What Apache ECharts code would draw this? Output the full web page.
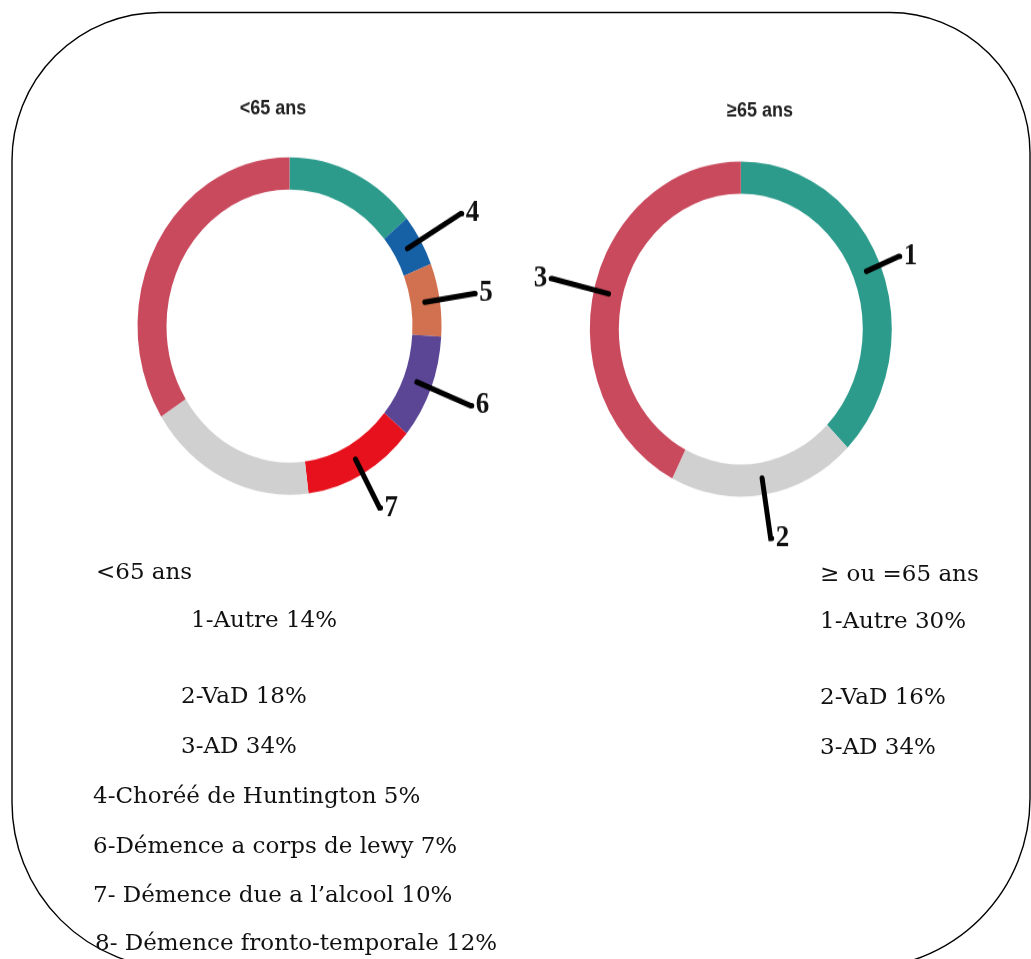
<!DOCTYPE html>
<html>
<head>
<meta charset="utf-8">
<script src="https://cdn.jsdelivr.net/npm/echarts@6/dist/echarts.min.js"></script>
<style>
  html, body { margin: 0; padding: 0; background: #fff; }
  #page { position: relative; width: 1031px; height: 959px; overflow: hidden; }
  #frame { position: absolute; left: 0; top: 0; width: 1031px; height: 959px; }
  /* the donut layer is stretched a little vertically, giving the rings their oval shape */
  #rings { position: absolute; left: 0; top: 0; width: 1031px; height: 864px;
           transform: scaleY(1.11); transform-origin: 0 0; }
</style>
</head>
<body>
<div id="page">
  <div id="frame"></div>
  <div id="rings"></div>
</div>
<script>
// ---- data: under 65 (ring order, clockwise from 12 o'clock) ----
const youngTitle = '<65 ans';
const youngHeading = '<65 ans';
const youngCategories = ['Autre', 'Choréé de Huntington', 'Démence a corps de lewy',
  'Démence due a l’alcool', 'Démence fronto-temporale', 'VaD', 'AD'];
const youngValues = [14, 5, 7, 10, 12, 18, 34];
const youngRingTags = ['', '4', '5', '6', '7', '', ''];
const youngListTags = ['1-', '4-', '6-', '7- ', '8- ', '2-', '3-'];
const youngListOrder = [0, 5, 6, 1, 2, 3, 4];

// ---- data: 65 and over ----
const oldTitle = '≥65 ans';
const oldHeading = '≥ ou =65 ans';
const oldCategories = ['Autre', 'VaD', 'AD'];
const oldValues = [30, 16, 34];
const oldRingTags = ['1', '2', '3'];
const oldListTags = ['1-', '2-', '3-'];
const oldListOrder = [0, 1, 2];

// ---- styling ----
const youngColors = ['#2c9b8b', '#1660a6', '#d2714f', '#5b4696', '#e6111d', '#d0d0d0', '#c9495d'];
const oldColors = ['#2c9b8b', '#d0d0d0', '#c9495d'];
const serif = '"DejaVu Serif", serif';

function ringSeries(center, radius, names, values, colors) {
  return {
    type: 'pie', center: center, radius: radius, startAngle: 90, clockwise: true,
    silent: true, label: { show: false }, labelLine: { show: false },
    data: names.map((n, i) => ({ name: n, value: values[i], itemStyle: { color: colors[i] } }))
  };
}

// transparent twin pie reaching to the middle of the ring, used only to carry the numbered pointers
function pointerSeries(center, midR, names, values, tags, lengths) {
  return {
    type: 'pie', center: center, radius: [0, midR], startAngle: 90, clockwise: true,
    silent: true, z: 5, avoidLabelOverlap: false,
    itemStyle: { color: 'rgba(0,0,0,0)' },
    label: {
      show: true, position: 'outside', formatter: p => tags[p.dataIndex],
      fontFamily: '"Liberation Serif", serif', fontWeight: 'bold', fontSize: 27,
      color: '#111', distanceToLabelLine: 4
    },
    labelLine: { show: true, length: 45, length2: 1, smooth: false,
      lineStyle: { color: '#000', width: 5, cap: 'round' } },
    data: names.map((n, i) => ({
      name: n, value: values[i],
      label: { show: !!tags[i] },
      labelLine: { show: !!tags[i], length: lengths[i] }
    }))
  };
}

const rings = echarts.init(document.getElementById('rings'), null, { renderer: 'canvas' });
rings.setOption({
  animation: false,
  graphic: [
    { type: 'text', x: 273, y: 98, style: { text: youngTitle, font: 'bold 18px "Liberation Sans", sans-serif',
      fill: '#222', textAlign: 'center', align: 'center', textVerticalAlign: 'middle', verticalAlign: 'middle' } },
    { type: 'text', x: 760, y: 100, style: { text: oldTitle, font: 'bold 18px "Liberation Sans", sans-serif',
      fill: '#222', textAlign: 'center', align: 'center', textVerticalAlign: 'middle', verticalAlign: 'middle' } }
  ],
  series: [
    ringSeries([289.5, 293.7], [123, 152], youngCategories, youngValues, youngColors),
    pointerSeries([289.5, 293.7], 137, youngCategories, youngValues, youngRingTags, [0, 62, 50, 58, 50, 0, 0]),
    ringSeries([740.8, 296.4], [122, 151], oldCategories, oldValues, oldColors),
    pointerSeries([740.8, 296.4], 136, oldCategories, oldValues, oldRingTags, [35, 55, 58])
  ]
});

// ---- frame and caption lines ----
function textEl(x, y, str) {
  return { type: 'text', x: x, y: y, style: { text: str, font: '23px ' + serif, fill: '#111',
    textVerticalAlign: 'middle', verticalAlign: 'middle' } };
}
const youngRowX = [191, 181, 181, 93, 93, 93, 95];
const youngRowY = [621, 697, 747, 797, 847, 896, 944];
const oldRowX = [820, 820, 820];
const oldRowY = [622, 698, 748];

const els = [
  { type: 'rect', shape: { x: 12, y: 12.5, width: 1018, height: 956, r: [148, 140, 170, 166] },
    style: { fill: 'none', stroke: '#000', lineWidth: 1.4 } },
  textEl(96, 573, youngHeading),
  textEl(820, 575, oldHeading)
];
youngListOrder.forEach((k, row) => {
  els.push(textEl(youngRowX[row], youngRowY[row],
    youngListTags[k] + youngCategories[k] + ' ' + youngValues[k] + '%'));
});
oldListOrder.forEach((k, row) => {
  els.push(textEl(oldRowX[row], oldRowY[row],
    oldListTags[k] + oldCategories[k] + ' ' + oldValues[k] + '%'));
});

const frame = echarts.init(document.getElementById('frame'), null, { renderer: 'canvas' });
frame.setOption({ animation: false, graphic: els });
</script>
</body>
</html>
